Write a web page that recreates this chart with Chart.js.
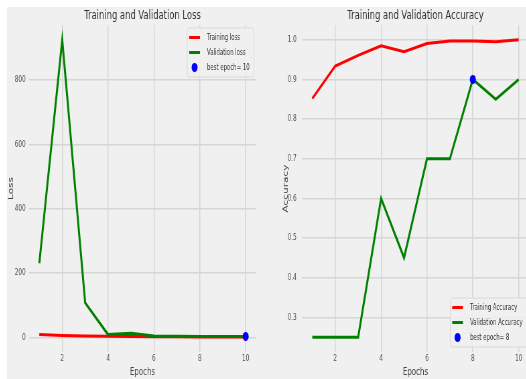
<!DOCTYPE html>
<html>
<head>
<meta charset="utf-8">
<script src="https://cdn.jsdelivr.net/npm/chart.js@4.4.0/dist/chart.umd.min.js"></script>
<style>
html, body { margin: 0; padding: 0; background: #fff; overflow: hidden; width: 526px; height: 379px; }
#figure { position: absolute; left: 7px; top: 7px; width: 519px; height: 372px; background: #f0f0f0; overflow: hidden; }
.panel { position: absolute; top: 0; height: 372px; transform-origin: 0 0; transform: scaleX(0.67); }
</style>
</head>
<body>
<div id="figure">
    <div class="panel" style="left: 0; width: 382px;"><canvas id="lossChart"></canvas></div>
    <div class="panel" style="left: 256px; width: 403px;"><canvas id="accChart"></canvas></div>
</div>
<script>
const epochs = [1, 2, 3, 4, 5, 6, 7, 8, 9, 10];
const trainLoss = [9, 6, 5, 4, 3, 2.5, 2, 1.8, 1.5, 1.3];
const valLoss = [231, 925, 108, 9, 13, 5, 4, 3.5, 3, 3];
const trainAcc = [0.852, 0.934, 0.961, 0.985, 0.970, 0.991, 0.997, 0.997, 0.995, 1.0];
const valAcc = [0.25, 0.25, 0.25, 0.6, 0.45, 0.7, 0.7, 0.9, 0.85, 0.9];
const bestLossEpoch = 10;
const bestAccEpoch = 8;
const xTicks = [2, 4, 6, 8, 10];
const lossTicks = [0, 200, 400, 600, 800];
const accTicks = [0.3, 0.4, 0.5, 0.6, 0.7, 0.8, 0.9, 1.0];

Chart.defaults.font.family = "'DejaVu Sans', sans-serif";
Chart.defaults.color = "#555";

function points(values) {
    return epochs.map((e, i) => ({ x: e, y: values[i] }));
}

// title centred over the plot area (matplotlib style)
const axesTitle = {
    id: "axesTitle",
    afterDraw(chart, args, opts) {
        const ctx = chart.ctx;
        const area = chart.chartArea;
        ctx.save();
        ctx.font = "12.5px 'DejaVu Sans'";
        ctx.fillStyle = "#333";
        ctx.textAlign = "center";
        ctx.textBaseline = "middle";
        ctx.fillText(opts.text, (area.left + area.right) / 2, 9);
        ctx.restore();
    },
};

// legend box drawn inside the plot area
const legendBox = {
    id: "legendBox",
    afterDatasetsDraw(chart, args, opts) {
        const ctx = chart.ctx;
        const area = chart.chartArea;
        const sets = chart.data.datasets;
        ctx.save();
        ctx.font = "8px 'DejaVu Sans'";
        let textW = 0;
        sets.forEach((d) => { textW = Math.max(textW, ctx.measureText(d.label).width); });
        const w = 3 + 16 + 10.5 + textW + 6.5;
        const h = 49;
        const x = area.right - 3 - w;
        const y = opts.loc === "top" ? area.top + 3 : area.bottom - 5 - h;
        ctx.fillStyle = "rgba(240,240,240,0.85)";
        ctx.strokeStyle = "#d9d9d9";
        ctx.lineWidth = 1;
        ctx.beginPath();
        ctx.roundRect(x, y, w, h, 3);
        ctx.fill();
        ctx.stroke();
        sets.forEach((d, i) => {
            const ry = y + 9.5 + i * 15;
            if (d.showLine === false) {
                ctx.fillStyle = d.backgroundColor;
                ctx.beginPath();
                ctx.arc(x + 11, ry, 4.5, 0, Math.PI * 2);
                ctx.fill();
            } else {
                ctx.strokeStyle = d.borderColor;
                ctx.lineWidth = 3;
                ctx.beginPath();
                ctx.moveTo(x + 3, ry);
                ctx.lineTo(x + 19, ry);
                ctx.stroke();
            }
            ctx.fillStyle = "#333";
            ctx.textBaseline = "middle";
            ctx.fillText(d.label, x + 29.5, ry);
        });
        ctx.restore();
    },
};

function makeChart(id, cfg) {
    const ctx = document.getElementById(id).getContext("2d");
    return new Chart(ctx, {
        type: "line",
        data: {
            datasets: [
                {
                    label: cfg.trainLabel,
                    data: points(cfg.train),
                    borderColor: "red",
                    backgroundColor: "red",
                    borderWidth: 3,
                    pointRadius: 0,
                    order: 3,
                },
                {
                    label: cfg.valLabel,
                    data: points(cfg.val),
                    borderColor: "green",
                    backgroundColor: "green",
                    borderWidth: 3,
                    pointRadius: 0,
                    order: 2,
                },
                {
                    label: "best epoch= " + cfg.best,
                    data: [{ x: cfg.best, y: cfg.val[cfg.best - 1] }],
                    showLine: false,
                    borderColor: "blue",
                    backgroundColor: "blue",
                    pointRadius: 4.5,
                    pointBorderWidth: 0,
                    order: 1,
                },
            ],
        },
        options: {
            responsive: true,
            maintainAspectRatio: false,
            animation: false,
            layout: { padding: { left: 0, right: cfg.padRight, top: 18, bottom: 0 } },
            plugins: {
                legend: { display: false },
                tooltip: { enabled: false },
                title: { display: false },
                axesTitle: { text: cfg.title },
                legendBox: { loc: cfg.legendLoc },
            },
            scales: {
                x: {
                    type: "linear",
                    min: 0.55,
                    max: 10.45,
                    afterBuildTicks: (s) => { s.ticks = xTicks.map((v) => ({ value: v })); },
                    afterFit: (s) => { s.height = 27; },
                    grid: { color: "#d6d6d6", lineWidth: 1.5, drawTicks: false },
                    border: { display: false },
                    ticks: { font: { size: 8.5 }, padding: 2 },
                    title: {
                        display: true,
                        text: "Epochs",
                        color: "#444",
                        font: { size: 10.5 },
                        padding: { top: 0, bottom: 0 },
                    },
                },
                y: {
                    min: cfg.yMin,
                    max: cfg.yMax,
                    afterBuildTicks: (s) => { s.ticks = cfg.yTicks.map((v) => ({ value: v })); },
                    afterFit: (s) => { s.width = cfg.yWidth; },
                    grid: { color: "#d6d6d6", lineWidth: 1.5, drawTicks: false },
                    border: { display: false },
                    ticks: {
                        font: { size: 8.5 },
                        padding: cfg.tickPad,
                        callback: (v) => cfg.fmt(v),
                    },
                    title: {
                        display: true,
                        text: cfg.yLabel,
                        color: "#444",
                        font: { size: 10.5 },
                        padding: { top: cfg.yTitlePad, bottom: 0 },
                    },
                },
            },
        },
        plugins: [axesTitle, legendBox],
    });
}

makeChart("lossChart", {
    title: "Training and Validation Loss",
    trainLabel: "Training loss",
    valLabel: "Validation loss",
    train: trainLoss,
    val: valLoss,
    best: bestLossEpoch,
    yMin: -45,
    yMax: 971,
    yTicks: lossTicks,
    yLabel: "Loss",
    yWidth: 32.8,
    yTitlePad: 0,
    tickPad: 5,
    padRight: 10.4,
    legendLoc: "top",
    fmt: (v) => String(v),
});

makeChart("accChart", {
    title: "Training and Validation Accuracy",
    trainLabel: "Training Accuracy",
    valLabel: "Validation Accuracy",
    train: trainAcc,
    val: valAcc,
    best: bestAccEpoch,
    yMin: 0.2125,
    yMax: 1.0375,
    yTicks: accTicks,
    yLabel: "Accuracy",
    yWidth: 58.2,
    yTitlePad: 28,
    tickPad: 8,
    padRight: 6,
    legendLoc: "bottom",
    fmt: (v) => v.toFixed(1),
});
</script>
</body>
</html>
